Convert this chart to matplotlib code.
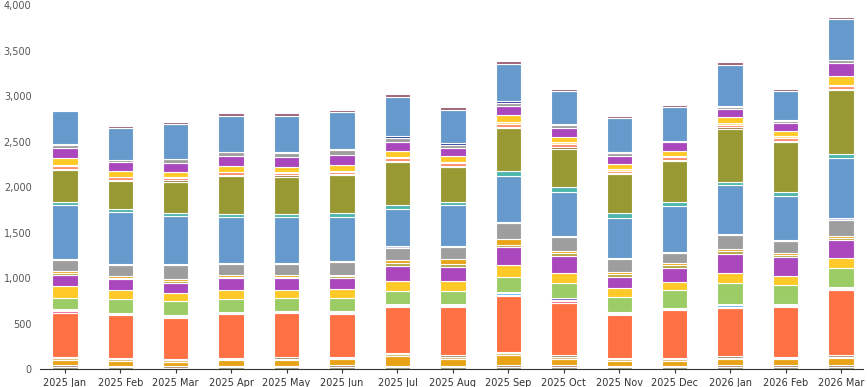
import numpy as np
import matplotlib.pyplot as plt
from matplotlib.ticker import FuncFormatter

months = ['2025 Jan', '2025 Feb', '2025 Mar', '2025 Apr', '2025 May', '2025 Jun',
          '2025 Jul', '2025 Aug', '2025 Sep', '2025 Oct', '2025 Nov', '2025 Dec',
          '2026 Jan', '2026 Feb', '2026 Mar']

# series stacked bottom -> top
s01 = [25, 20, 15, 20, 20, 20, 20, 20, 25, 25, 20, 20, 25, 25, 25]
s02 = [15, 15, 15, 15, 15, 20, 15, 15, 20, 15, 15, 15, 15, 15, 15]
s03 = [60, 55, 50, 60, 65, 65, 110, 80, 110, 75, 55, 55, 70, 65, 80]
s04 = [20, 15, 15, 15, 15, 15, 20, 20, 20, 20, 15, 15, 15, 15, 15]
s05 = [15, 15, 15, 15, 15, 15, 15, 15, 15, 15, 15, 15, 15, 10, 15]
s06 = [485, 470, 450, 475, 480, 470, 505, 535, 610, 580, 475, 525, 530, 550, 720]
s07 = [15, 12, 12, 12, 12, 12, 12, 12, 15, 15, 12, 12, 15, 12, 12]
s08 = [10, 8, 8, 8, 8, 8, 8, 8, 15, 15, 8, 8, 15, 12, 12]
s09 = [10, 10, 10, 10, 10, 10, 10, 10, 15, 15, 10, 10, 15, 12, 12]
s10 = [130, 150, 160, 140, 135, 150, 145, 145, 165, 175, 165, 190, 230, 210, 200]
s11 = [130, 95, 90, 95, 95, 90, 110, 110, 130, 100, 95, 95, 110, 100, 110]
s12 = [120, 120, 110, 130, 125, 125, 160, 150, 200, 190, 130, 155, 210, 200, 200]
s13 = [25, 20, 20, 20, 20, 20, 30, 30, 25, 30, 25, 25, 30, 25, 25]
s14 = [20, 15, 15, 15, 15, 15, 40, 60, 60, 30, 30, 25, 25, 25, 25]
s15 = [115, 120, 155, 125, 120, 140, 130, 130, 175, 150, 140, 110, 150, 130, 170]
s16 = [15, 15, 15, 15, 15, 15, 20, 15, 15, 15, 15, 15, 15, 15, 20]
s17 = [590, 565, 530, 500, 505, 480, 410, 445, 505, 480, 435, 500, 535, 480, 665]
s18 = [40, 35, 30, 35, 35, 40, 40, 40, 55, 55, 50, 45, 35, 45, 40]
s19 = [345, 310, 345, 415, 410, 420, 470, 380, 475, 420, 430, 450, 585, 550, 710]
s20 = [15, 15, 15, 15, 15, 15, 15, 15, 15, 25, 15, 15, 15, 15, 10]
s21 = [30, 25, 25, 25, 25, 25, 30, 30, 30, 25, 25, 25, 25, 25, 30]
s22 = [15, 10, 10, 10, 10, 10, 15, 15, 25, 20, 15, 15, 20, 20, 15]
s23 = [75, 60, 55, 60, 60, 65, 70, 60, 70, 65, 55, 60, 70, 55, 90]
s24 = [105, 100, 100, 110, 105, 110, 100, 90, 105, 95, 95, 95, 90, 90, 145]
s25 = [35, 25, 40, 40, 45, 50, 40, 35, 30, 30, 30, 15, 15, 20, 40]
s26 = [10, 0, 5, 5, 5, 10, 25, 15, 25, 15, 10, 0, 10, 15, 0]
s27 = [360, 350, 380, 400, 405, 410, 425, 370, 400, 355, 370, 365, 455, 320, 440]
s28 = [20, 20, 20, 25, 25, 25, 30, 30, 40, 30, 25, 25, 30, 24, 30]

series = [s01, s02, s03, s04, s05, s06, s07, s08, s09, s10, s11, s12, s13, s14,
          s15, s16, s17, s18, s19, s20, s21, s22, s23, s24, s25, s26, s27, s28]
colors = ['#8E9C78', '#A3896A', '#E8A317', '#D9B96E', '#A08C70', '#FF7043',
          '#F06292', '#64B5F6', '#7E57C2', '#9CCC65', '#FFCA28', '#AB47BC',
          '#B5A642', '#E8A317', '#9E9E9E', '#C5CAE9', '#6699CC', '#4DB6AC',
          '#999933', '#A0763C', '#FF8A65', '#FFE082', '#FFCA28', '#AB47BC',
          '#9E9E9E', '#283593', '#6699CC', '#A0607A']

fig = plt.figure(figsize=(8.67, 3.87), dpi=100)
ax = fig.add_axes([0.046, 0.0465, 0.949, 0.9405])

x = np.arange(len(months))
bottom = np.zeros(len(months))
for vals, c in zip(series, colors):
    vals = np.array(vals, dtype=float)
    ax.bar(x, vals, bottom=bottom, width=0.46, color=c,
           edgecolor='white', linewidth=0.8)
    bottom += vals

ax.set_xlim(-0.45, 14.39)
ax.set_ylim(0, 4000)
ax.set_yticks(np.arange(0, 4001, 500))
ax.yaxis.set_major_formatter(FuncFormatter(lambda v, p: f'{int(v):,}'))
ax.set_xticks(x)
ax.set_xticklabels(months)

for s in ['top', 'right', 'left']:
    ax.spines[s].set_visible(False)
ax.spines['bottom'].set_color('#333333')
ax.tick_params(axis='both', labelsize=7, colors='#333333', length=3)
ax.tick_params(axis='y', length=0, labelcolor='#555555', pad=6)
ax.tick_params(axis='x', labelcolor='#333333')

fig.savefig('out.png', dpi=100)
